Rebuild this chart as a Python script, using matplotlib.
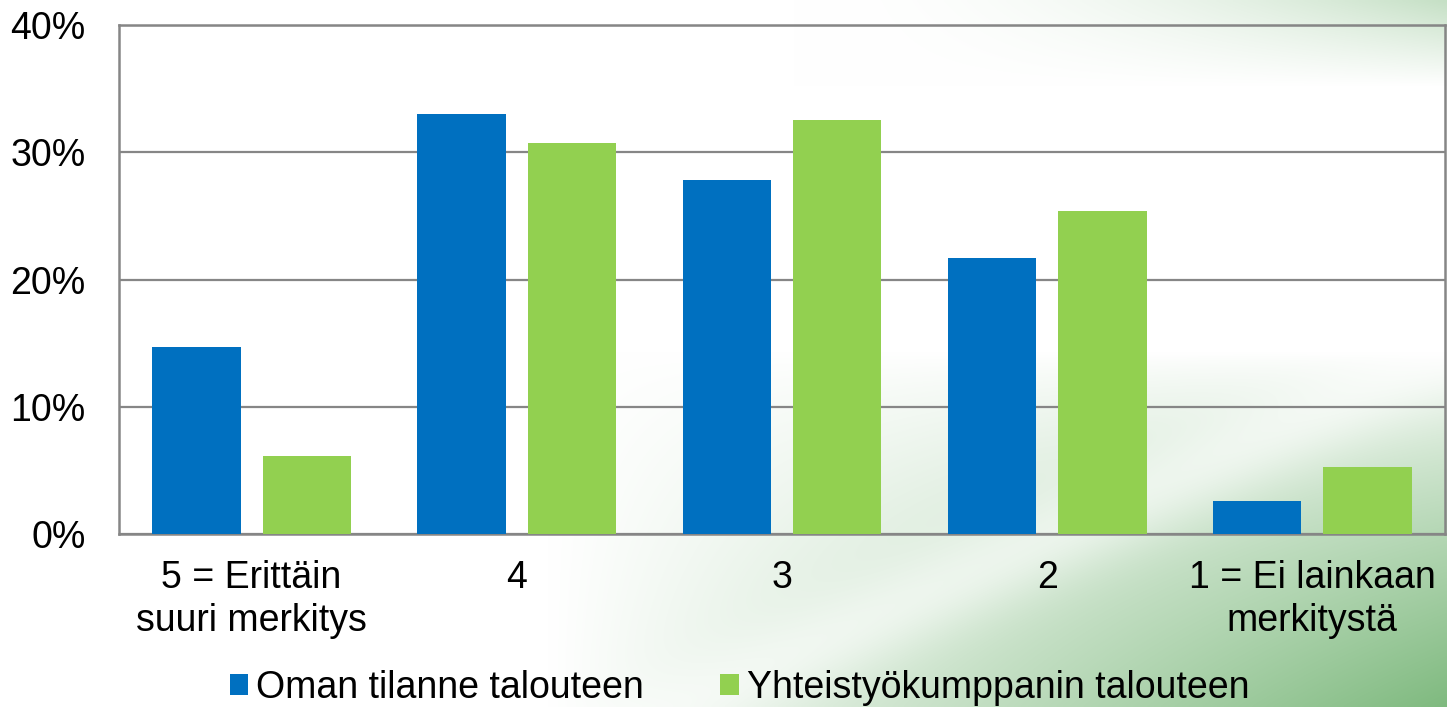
import numpy as np
import matplotlib
matplotlib.use("Agg")
import matplotlib.pyplot as plt
from matplotlib.patches import Patch

categories = ["5 = Erittäin\nsuuri merkitys", "4", "3", "2", "1 = Ei lainkaan\nmerkitystä"]
series_names = ["Oman tilanne talouteen", "Yhteistyökumppanin talouteen"]
oman = [14.7, 33.0, 27.8, 21.7, 2.6]
yhteistyo = [6.1, 30.7, 32.5, 25.4, 5.3]
yticks = [0, 10, 20, 30, 40]
ytick_labels = ["0%", "10%", "20%", "30%", "40%"]

blue = "#0070C0"
green = "#92D050"
grid_gray = "#868686"

plt.rcParams['font.family'] = ['Liberation Sans', 'DejaVu Sans']

W, H = 1447, 707
fig = plt.figure(figsize=(W / 100, H / 100), dpi=100)

# Background gradient (white to soft green at bottom-right)
bg = fig.add_axes([0, 0, 1, 1], zorder=-10)
u = np.linspace(0, 1, 500)[None, :]
v = np.linspace(0, 1, 250)[:, None]
t = np.clip((u - 0.38) / 0.62, 0, 1) * np.clip((v - 0.5) / 0.5, 0, 1) ** 0.8
t = t + 0.45 * np.clip((u - 0.55) / 0.45, 0, 1) ** 2 * np.clip((0.12 - v) / 0.12, 0, 1)
# bright diagonal streak
d = (v - (1.45 - 0.95 * u))
t = t * (1 - 0.55 * np.exp(-(d / 0.07) ** 2))
t = np.clip(t, 0, 1)
gcol = np.array([0.50, 0.73, 0.50])
img = 1 - t[..., None] * (1 - gcol)[None, None, :]
bg.imshow(img, aspect='auto', extent=[0, 1, 0, 1], origin='upper', interpolation='bilinear')
bg.set_axis_off()

ax = fig.add_axes([119 / W, 1 - 534 / H, (1445 - 119) / W, (534 - 25) / H])
ax.set_facecolor('none')

x = np.arange(len(categories))
bw = 0.333
off = 0.208
ax.bar(x - off, oman, bw, color=blue, label=series_names[0], zorder=3)
ax.bar(x + off, yhteistyo, bw, color=green, label=series_names[1], zorder=3)

ax.set_xlim(-0.5, len(categories) - 0.5)
ax.set_ylim(0, 40)
ax.set_yticks(yticks)
ax.set_yticklabels(ytick_labels)
ax.set_xticks(x)
ax.set_xticklabels(categories, linespacing=1.25)
ax.yaxis.grid(True, color=grid_gray, linewidth=1.6, zorder=0)
ax.set_axisbelow(True)
for s in ax.spines.values():
    s.set_color(grid_gray)
    s.set_linewidth(1.8)
ax.tick_params(axis='y', length=0, pad=24, labelsize=27, colors='black')
ax.tick_params(axis='x', length=0, pad=19, labelsize=27, colors='black')

handles = [Patch(facecolor=blue), Patch(facecolor=green)]
fig.legend(handles, series_names, loc='center', bbox_to_anchor=(0.511, 19 / H),
           ncol=2, frameon=False, fontsize=27, handlelength=0.5, handleheight=0.5,
           handletextpad=0.2, columnspacing=2.05, borderaxespad=0, borderpad=0)

fig.savefig("out.png", dpi=100)
